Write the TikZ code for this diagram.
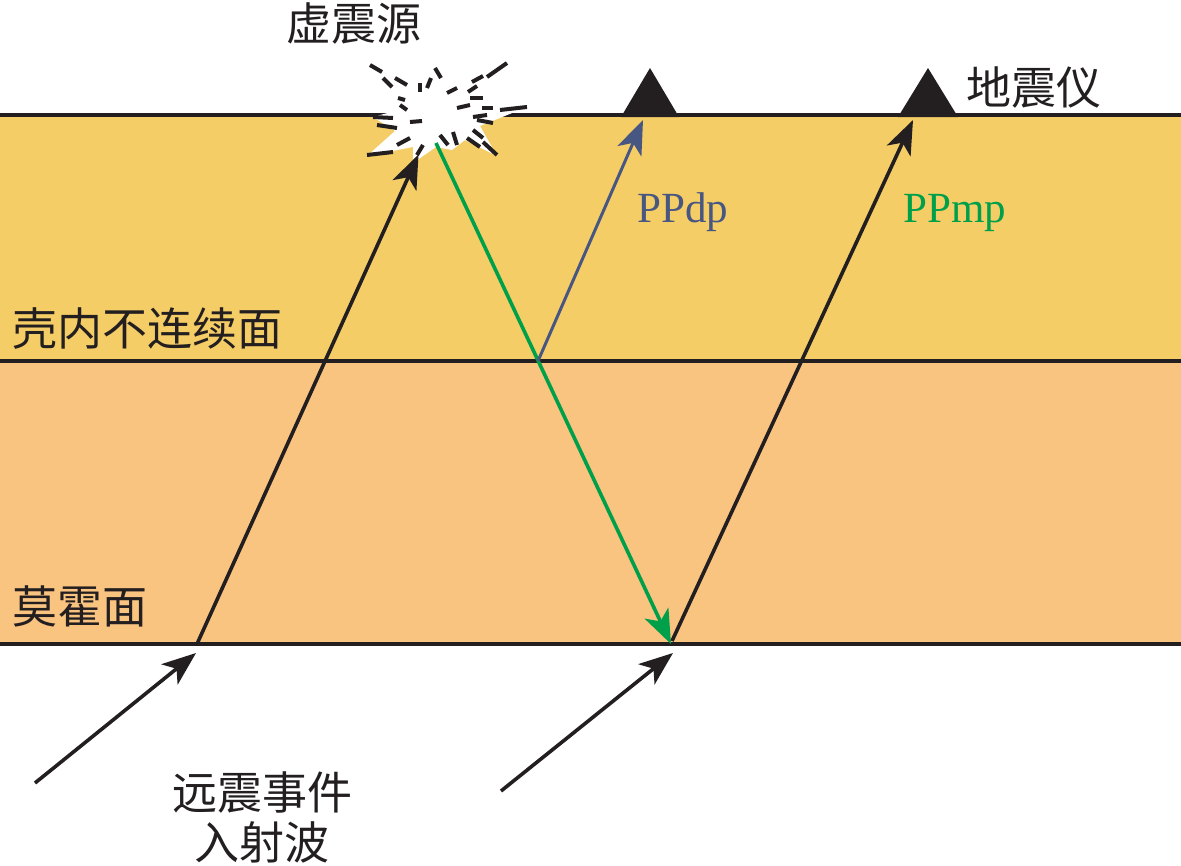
\documentclass[tikz,border=0pt]{standalone}
\usepackage{fontspec}
\setmainfont{Liberation Serif}
\newfontfamily\cjk{Noto Sans CJK SC}
\usetikzlibrary{arrows.meta}
\definecolor{crust}{RGB}{245,205,102}
\definecolor{mantle}{RGB}{249,195,128}
\definecolor{dpblue}{RGB}{72,86,130}
\definecolor{mpgreen}{RGB}{0,160,75}
\definecolor{ink}{RGB}{35,31,32}
\tikzset{
  ray/.style={ink, line width=3.6pt, -{Stealth[length=34pt,width=26pt,inset=9pt]}},
  zh/.style={font=\cjk\fontsize{45}{50}\selectfont, inner sep=0pt, text=ink},
  en/.style={font=\fontsize{43}{50}\selectfont, inner sep=0pt},
  spark/.style={ink, line width=4pt},
  layer/.style={ink, line width=3.6pt}
}
\begin{document}
\begin{tikzpicture}[x=1pt, y=-1pt]
\useasboundingbox (0,0) rectangle (1181,865);
\fill[crust] (0,115) rectangle (1181,361);
\fill[mantle] (0,361) rectangle (1181,644);
\coordinate (L_0_0) at (0,115);
\coordinate (L_0_1) at (1181,115);
\coordinate (L_1_0) at (0,361);
\coordinate (L_1_1) at (1181,361);
\coordinate (L_2_0) at (0,644);
\coordinate (L_2_1) at (1181,644);
\draw[layer] (L_0_0) -- (L_0_1);
\draw[layer] (L_1_0) -- (L_1_1);
\draw[layer] (L_2_0) -- (L_2_1);
\coordinate (X) at (435,118);
\coordinate (G) at (436,143);
\coordinate (R) at (538,361);
\coordinate (B_1) at (197,644);
\coordinate (B_2) at (671,644);
\coordinate (E_1) at (35,783);
\coordinate (E_2) at (501,791);
\coordinate (S_1) at (650,117);
\coordinate (S_2) at (928,117);
\fill[white] (373,117) -- (402,109) -- (400,97) -- (415,95) -- (418,82) -- (431,90)
  -- (440,70) -- (452,93) -- (480,84) -- (469,104) -- (527,107) -- (480,126)
  -- (497,156) -- (465,140) -- (452,150) -- (436,147) -- (413,163) -- (413,147)
  -- (367,156) -- (395,131) -- cycle;
\foreach \xa/\ya/\xb/\yb in {370/65/382/72, 383/78/392/87, 395/78/407/85,
    420/83/420/92, 427/88/431/78, 435/68/441/78, 447/93/457/88, 472/82/483/76,
    487/77/507/63, 468/92/477/86, 457/108/470/105, 470/98/483/98, 482/108/493/108,
    500/110/527/107, 473/117/487/115, 477/120/493/123, 473/130/483/138,
    467/138/480/147, 483/142/497/155, 453/132/457/145, 440/135/448/145,
    423/145/417/155, 410/138/397/145, 393/152/367/155, 377/125/397/128,
    373/117/393/118, 400/105/407/110, 398/98/405/100, 410/122/422/121}
  \draw[spark] (\xa,\ya) -- (\xb,\yb);
\draw[ray] (E_1) -- ([shift={(-1,9)}]B_1);
\draw[ray, shorten >=40pt] (B_1) -- (X);
\draw[ray, mpgreen] (G) -- (B_2);
\draw[ray, dpblue, line width=3pt] (R) -- ([shift={(-7,3)}]S_1);
\draw[ray] (E_2) -- ([shift={(2,9)}]B_2);
\draw[ray] ([shift={(1,-3)}]B_2) -- ([shift={(-15,3)}]S_2);
\fill[ink] ([shift={(-29,0)}]S_1) -- ([shift={(0,-49)}]S_1) -- ([shift={(29,0)}]S_1) -- cycle;
\fill[ink] ([shift={(-30,0)}]S_2) -- ([shift={(0,-49)}]S_2) -- ([shift={(30,0)}]S_2) -- cycle;
\node[zh] (V) at (354,24) {虚震源};
\node[zh, anchor=west] (D) at (966,88) {地震仪};
\node[zh, anchor=west] (C) at (12,329) {壳内不连续面};
\node[zh, anchor=west] (M) at (12,606) {莫霍面};
\node[zh] (T_1) at (262,793) {远震事件};
\node[zh] (T_2) at (262,842) {入射波};
\node[en, text=dpblue, anchor=base west] (P_1) at (637,222) {PPdp};
\node[en, text=mpgreen, anchor=base west] (P_2) at (903,222) {PPmp};
\end{tikzpicture}
\end{document}
